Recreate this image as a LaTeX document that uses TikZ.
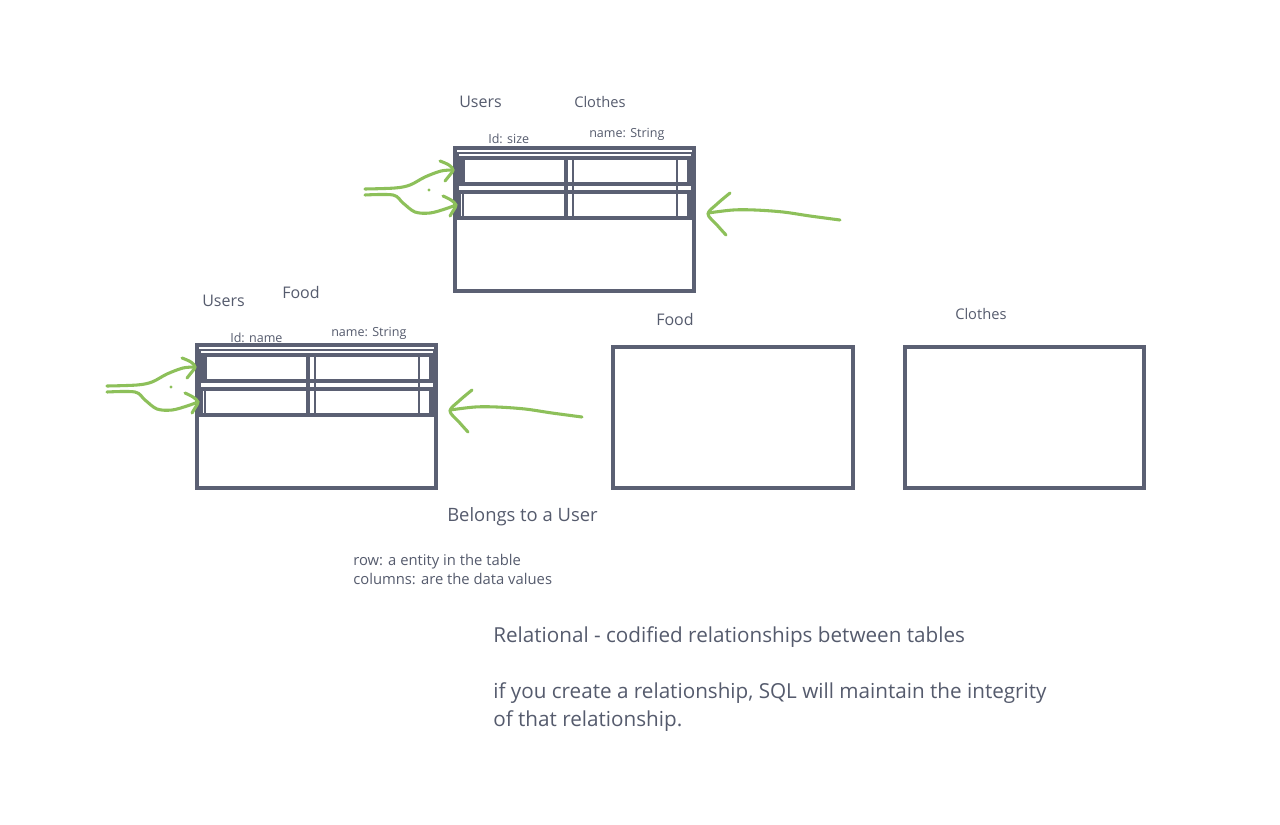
\documentclass[tikz,border=0pt]{standalone}
\usepackage{fontspec}
\setmainfont{Open Sans}
\definecolor{slate}{HTML}{5B6073}
\definecolor{txt}{HTML}{555B6D}
\definecolor{grn}{HTML}{8DC05A}
\newcommand\dbtable[2]{%
\begin{scope}[shift={(#1,#2)}]
 \draw[tbl] (0,0) rectangle (239,143);
 \draw[thinl] (3,5) rectangle (237,71);
 \draw[tbl] (5,10) rectangle (234,36);
 \fill[slate] (3,8) rectangle (10,37);
 \draw[tbl] (4,44) rectangle (234,70);
 \draw[tbl] (111,8) -- (111,71);
 \draw[tblm] (118,8) -- (118,71);
 \draw[tblm] (222,8) -- (222,71);
 \draw[thinl] (8,44) -- (8,70);
 % green arrows
 \draw[gline] plot[smooth,tension=0.55] coordinates {(-90,41) (-60,40) (-45,37) (-30,29) (-14,23) (-2,22)};
 \draw[gline] plot[smooth,tension=0.55] coordinates {(-15,13) (-6,17) (-2,22) (-6,28) (-10,33)};
 \draw[gline] plot[smooth,tension=0.55] coordinates {(-90,47) (-62,47) (-52,55) (-40,64) (-25,65) (-10,61) (1,57)};
 \draw[gline] plot[smooth,tension=0.55] coordinates {(-12,48) (-4,52) (1,57) (-2,63) (-5,68)};
 \fill[grn] (-26,42) circle[radius=1.2pt];
 \draw[gline] plot[smooth,tension=0.55] coordinates {(385,72) (355,68) (328,64) (300,62) (278,62) (253,65)};
 \draw[gline] plot[smooth,tension=0.55] coordinates {(275,45) (262,56) (253,66) (262,77) (271,87)};
\end{scope}}
\begin{document}
\begin{tikzpicture}[x=0.75pt,y=-0.75pt,
  tbl/.style={draw=slate,line width=2.3pt},
  tblm/.style={draw=slate,line width=1.9pt},
  thinl/.style={draw=slate,line width=0.9pt},
  box/.style={draw=slate,line width=2.4pt},
  gline/.style={draw=grn,line width=2.3pt,line cap=round,line join=round},
  lbl/.style={anchor=base west,inner sep=0pt,text=txt}]
\fill[white] (0,0) rectangle (1280,824);
\useasboundingbox (0,0) rectangle (1280,824);
% tables
\dbtable{455}{148}
\dbtable{197}{345}
\draw[box] (613,347) rectangle (853,488);
\draw[box] (905,347) rectangle (1144,488);
% labels
\node[lbl,font=\fontsize{12}{14}\selectfont] (u1) at (459,107.5) {Users};
\node[lbl,font=\fontsize{11}{14}\selectfont] (c1) at (574,107) {Clothes};
\node[lbl,font=\fontsize{9.4}{12}\selectfont] (i1) at (488,143) {Id: size};
\node[lbl,font=\fontsize{9.4}{12}\selectfont] (n1) at (589,137) {name: String};
\node[lbl,font=\fontsize{12}{14}\selectfont] (u2) at (202,306.5) {Users};
\node[lbl,font=\fontsize{12}{14}\selectfont] (f2) at (282,298.5) {Food};
\node[lbl,font=\fontsize{9.4}{12}\selectfont] (i2) at (230,342) {Id: name};
\node[lbl,font=\fontsize{9.4}{12}\selectfont] (n2) at (331,336) {name: String};
\node[lbl,font=\fontsize{12}{14}\selectfont] (f3) at (656,325.5) {Food};
\node[lbl,font=\fontsize{11}{14}\selectfont] (c3) at (955,319) {Clothes};
\node[lbl,font=\fontsize{13.8}{16}\selectfont] (bel) at (447,521) {Belongs to a User};
\node[lbl,font=\fontsize{11.1}{14}\selectfont] (row) at (353,565) {row: a entity in the table};
\node[lbl,font=\fontsize{11.1}{14}\selectfont] (col) at (353,584) {columns: are the data values};
\node[lbl,font=\fontsize{15.5}{18}\selectfont] (rel) at (493,642) {Relational - codified relationships between tables};
\node[lbl,font=\fontsize{15.5}{18}\selectfont] (sql1) at (493,698) {if you create a relationship, SQL will maintain the integrity};
\node[lbl,font=\fontsize{15.5}{18}\selectfont] (sql2) at (493,726) {of that relationship.};
\end{tikzpicture}
\end{document}
